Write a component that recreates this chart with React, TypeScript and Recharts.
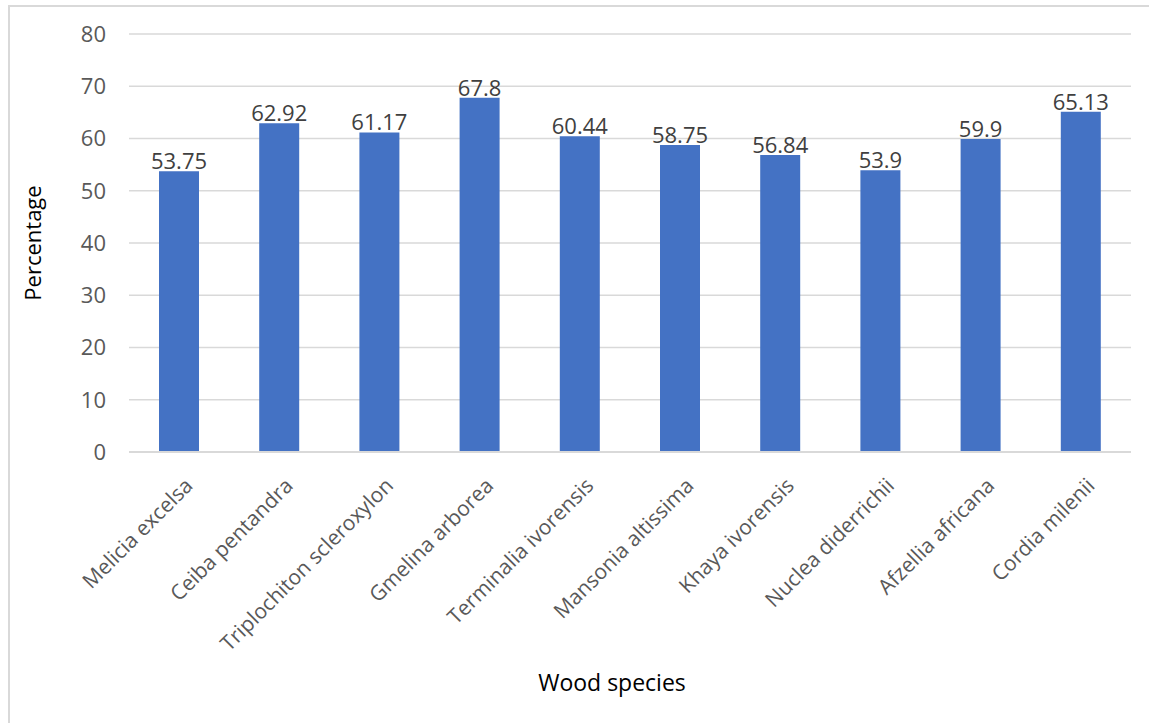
import { BarChart, Bar, XAxis, YAxis, CartesianGrid, LabelList, Label } from "recharts"

const species = [
  "Melicia excelsa",
  "Ceiba pentandra",
  "Triplochiton scleroxylon",
  "Gmelina arborea",
  "Terminalia ivorensis",
  "Mansonia altissima",
  "Khaya ivorensis",
  "Nuclea diderrichii",
  "Afzellia africana",
  "Cordia milenii",
]
const percentages = [53.75, 62.92, 61.17, 67.8, 60.44, 58.75, 56.84, 53.9, 59.9, 65.13]
const yTicks = [0, 10, 20, 30, 40, 50, 60, 70, 80]

const FONT = "'Open Sans', 'Liberation Sans', sans-serif"
const GRID = "#d9d9d9"

// eslint-disable-next-line @typescript-eslint/no-explicit-any
const SpeciesTick = ({ x, y, payload }: any) => (
  <g transform={`translate(${x + 15},${y + 35})`}>
    <text textAnchor="end" transform="rotate(-45)" fill="#595959" fontSize={21} fontFamily={FONT}>
      {payload.value}
    </text>
  </g>
)

export default function App() {
  const data = species.map((name, i) => ({ name, value: percentages[i] }))

  return (
    <div
      style={{
        position: "absolute",
        left: 8,
        top: 5,
        width: 1141,
        height: 718,
        boxSizing: "border-box",
        borderLeft: `2px solid ${GRID}`,
        borderTop: `2px solid ${GRID}`,
        background: "#fff",
      }}
    >
      <BarChart
        width={1139}
        height={716}
        data={data}
        margin={{ top: 27, right: 18, left: 0, bottom: 31 }}
      >
        <CartesianGrid vertical={false} stroke={GRID} strokeWidth={1.5} />
        <XAxis
          dataKey="name"
          interval={0}
          height={240}
          tickLine={false}
          tickSize={0}
          tickMargin={0}
          axisLine={{ stroke: GRID, strokeWidth: 2 }}
          tick={<SpeciesTick />}
        >
          <Label
            value="Wood species"
            position="center"
            dx={-18}
            dy={111}
            fill="#000"
            fontSize={23}
            fontFamily={FONT}
          />
        </XAxis>
        <YAxis
          domain={[0, 80]}
          ticks={yTicks}
          width={119}
          axisLine={false}
          tickLine={false}
          tickSize={0}
          tickMargin={23}
          tick={{ fill: "#595959", fontSize: 22, fontFamily: FONT }}
        >
          <Label
            value="Percentage"
            angle={-90}
            position="center"
            dx={-36}
            fill="#000"
            fontSize={22}
            fontFamily={FONT}
          />
        </YAxis>
        <Bar dataKey="value" fill="#4472c4" barSize={40} isAnimationActive={false}>
          <LabelList
            dataKey="value"
            position="top"
            offset={2}
            fill="#404040"
            fontSize={22}
            fontFamily={FONT}
          />
        </Bar>
      </BarChart>
    </div>
  )
}
